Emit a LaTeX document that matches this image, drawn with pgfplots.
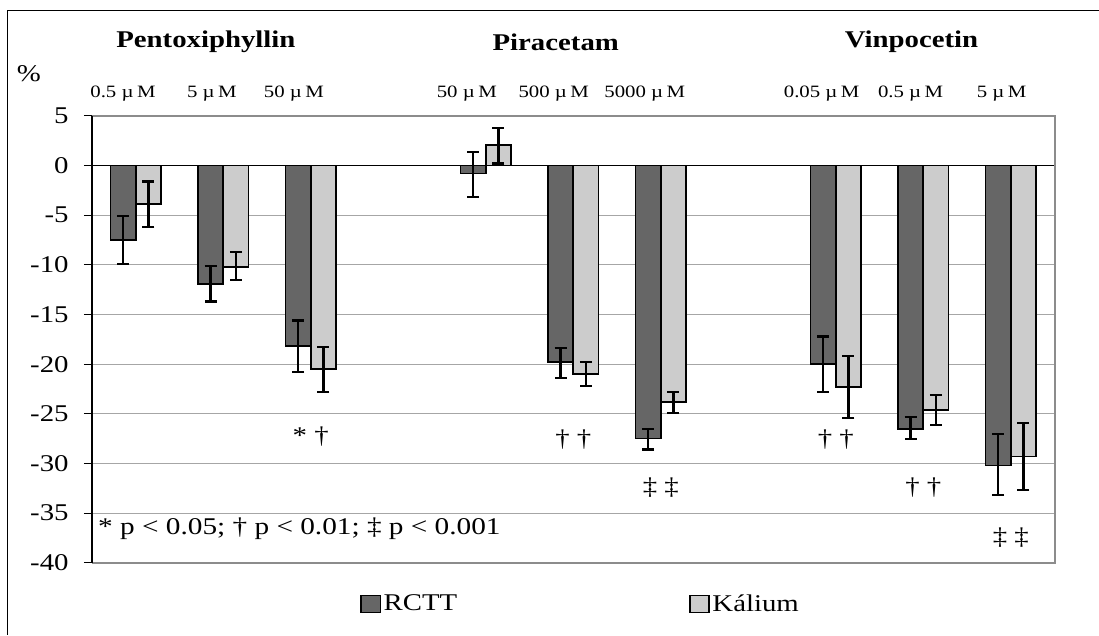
\documentclass[border=0pt]{standalone}
\usepackage{fontspec}
\setmainfont{Liberation Serif}
\usepackage{graphicx}
\usepackage{pgfplots}
\usepackage{pgfplotstable}
\pgfplotsset{compat=1.18}
\definecolor{dark}{HTML}{666666}
\definecolor{light}{HTML}{CCCCCC}
\definecolor{gridc}{HTML}{A6A6A6}
\definecolor{framec}{HTML}{8C8C8C}
\newcommand\sx[1]{\scalebox{1.2}[1]{#1}}
\newcommand\fbig{\fontsize{18}{20}\selectfont}
\newcommand\fsmall{\fontsize{13}{15}\selectfont}

\pgfplotstableread{
x y ep em
0 -7.5 2.4 2.4
1 -11.9 1.8 1.8
2 -18.2 2.6 2.6
4 -0.8 2.2 2.4
5 -19.8 1.4 1.6
6 -27.5 1.0 1.1
8 -20.0 2.8 2.8
9 -26.5 1.2 1.0
10 -30.2 3.2 3.0
}\rctt

\pgfplotstableread{
x y ep em
0 -3.9 2.3 2.3
1 -10.2 1.5 1.3
2 -20.5 2.2 2.3
4 2.1 1.7 1.9
5 -21.0 1.2 1.2
6 -23.8 1.0 1.1
8 -22.3 3.1 3.1
9 -24.6 1.5 1.5
10 -29.3 3.4 3.4
}\kalium

\begin{document}
\begin{tikzpicture}
\begin{scope}[x=0.75pt,y=-0.75pt]
\useasboundingbox (0,0) rectangle (1099,635);
\end{scope}
\begin{axis}[
  at={(69pt,-422.25pt)}, anchor=south west,
  scale only axis, width=722.25pt, height=335.25pt,
  xmin=-0.5, xmax=10.5, ymin=-40, ymax=5,
  xtick=\empty, ytick={-40,-35,...,5},
  ymajorgrids, grid style={gridc, line width=0.8pt},
  axis line style={draw=none},
  tick align=outside, ytick pos=left, major tick length=6pt,
  ytick style={black, line width=0.75pt},
  yticklabel={\sx{\pgfmathparse{int(round(\tick))}\pgfmathresult}},
  yticklabel style={font=\fbig, xshift=-8pt},
  ybar=0pt, bar width=0.29,
  clip=false,
  legend columns=2,
  legend style={draw=none, fill=none, at={(0.508,-0.092)}, anchor=center, font=\fbig,
    /tikz/every even column/.append style={column sep=172pt},
    nodes={inner xsep=2pt}},
  legend image code/.code={\draw[#1, draw=black, line width=1pt] (0pt,-6.6pt) rectangle (14.5pt,6.4pt);},
]
\draw[black, line width=0.9pt] (axis cs:-0.5,0) -- (axis cs:10.5,0);
\addplot[fill=dark, draw=black, line width=1.25pt,
  error bars/.cd, y dir=both, y explicit,
  error bar style={line width=1.7pt, black},
  error mark options={rotate=90, black, line width=1.7pt, mark size=4.5pt}]
  table[x=x, y=y, y error plus=ep, y error minus=em] {\rctt};
\addplot[fill=light, draw=black, line width=1.25pt,
  error bars/.cd, y dir=both, y explicit,
  error bar style={line width=1.7pt, black},
  error mark options={rotate=90, black, line width=1.7pt, mark size=4.5pt}]
  table[x=x, y=y, y error plus=ep, y error minus=em] {\kalium};
\legend{\sx{RCTT}, \sx{Kálium}}
\draw[framec, line width=1.5pt] (rel axis cs:0,1) -- (rel axis cs:1,1) -- (rel axis cs:1,0) -- (rel axis cs:0,0);
\draw[black, line width=1pt] (rel axis cs:0,0) -- (rel axis cs:0,1);
\node[font=\fbig] at (axis cs:2,-27.3) {\sx{* †}};
\node[font=\fbig] at (axis cs:5,-27.6) {\sx{† †}};
\node[font=\fbig] at (axis cs:6,-32.4) {\sx{‡ ‡}};
\node[font=\fbig] at (axis cs:8,-27.6) {\sx{† †}};
\node[font=\fbig] at (axis cs:9,-32.4) {\sx{† †}};
\node[font=\fbig] at (axis cs:10,-37.5) {\sx{‡ ‡}};
\end{axis}
\begin{scope}[x=0.75pt,y=-0.75pt]
\draw[black, line width=0.75pt] (8,635) -- (8,11) -- (1099,11);
\node[font=\bfseries\fbig] at (206,42) {\sx{Pentoxiphyllin}};
\node[font=\bfseries\fbig] at (556,42) {\sx{Piracetam}};
\node[font=\bfseries\fbig] at (912,42) {\sx{Vinpocetin}};
\node[font=\fbig] at (29,74) {\sx{\%}};
\node[font=\fsmall] at (123,94) {\sx{0.5 µ\,M}};
\node[font=\fsmall] at (212,94) {\sx{5 µ\,M}};
\node[font=\fsmall] at (294,94) {\sx{50 µ\,M}};
\node[font=\fsmall] at (467,94) {\sx{50 µ\,M}};
\node[font=\fsmall] at (554,94) {\sx{500 µ\,M}};
\node[font=\fsmall] at (645,94) {\sx{5000 µ\,M}};
\node[font=\fsmall] at (822,94) {\sx{0.05 µ\,M}};
\node[font=\fsmall] at (911,94) {\sx{0.5 µ\,M}};
\node[font=\fsmall] at (1002,94) {\sx{5 µ\,M}};
\node[font=\fbig, anchor=west, inner sep=0pt] at (98,529) {\scalebox{1.22}[1]{* p < 0.05; † p < 0.01; ‡ p < 0.001}};
\end{scope}
\end{tikzpicture}
\end{document}
